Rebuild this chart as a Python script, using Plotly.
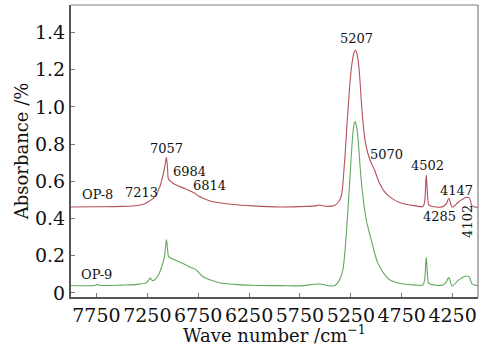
import plotly.graph_objects as go

# OP-8 spectrum (wavenumber cm^-1, absorbance)
op8_wn = [8000, 7750, 7500, 7350, 7280, 7240, 7212, 7180, 7131, 7091, 7075, 7062, 7050, 7042,
          7010, 6967, 6868, 6787, 6750, 6708, 6640, 6541, 6400, 6216, 5950, 5754, 5600, 5558,
          5500, 5410, 5370, 5345, 5312, 5280, 5246, 5220, 5204, 5188, 5171, 5138, 5110, 5083,
          5050, 5017, 4968, 4920, 4870, 4771, 4700, 4607, 4542, 4525, 4509, 4495, 4483, 4450,
          4346, 4310, 4287, 4253, 4200, 4164, 4140, 4115, 4085, 4060, 4030, 4003]
op8_abs = [0.462, 0.463, 0.465, 0.470, 0.478, 0.490, 0.500, 0.515, 0.565, 0.645, 0.690, 0.728, 0.660, 0.613,
           0.595, 0.580, 0.558, 0.537, 0.522, 0.510, 0.496, 0.485, 0.475, 0.468, 0.462, 0.464, 0.468, 0.473,
           0.466, 0.470, 0.490, 0.518, 0.700, 0.966, 1.200, 1.290, 1.306, 1.280, 1.217, 0.966, 0.820, 0.751,
           0.700, 0.661, 0.590, 0.545, 0.518, 0.486, 0.475, 0.468, 0.464, 0.490, 0.634, 0.520, 0.473, 0.465,
           0.464, 0.480, 0.509, 0.461, 0.485, 0.500, 0.508, 0.514, 0.510, 0.470, 0.462, 0.460]

# OP-9 spectrum
op9_wn = [8000, 7760, 7745, 7720, 7500, 7350, 7262, 7235, 7222, 7199, 7160, 7131, 7088, 7072,
          7062, 7050, 7039, 6967, 6900, 6836, 6770, 6705, 6620, 6541, 6400, 6216, 5950, 5754,
          5558, 5480, 5410, 5361, 5330, 5312, 5280, 5246, 5225, 5210, 5195, 5181, 5148, 5120,
          5098, 5083, 5049, 4984, 4902, 4850, 4771, 4607, 4542, 4525, 4509, 4495, 4483, 4346,
          4310, 4287, 4253, 4200, 4164, 4115, 4085, 4060, 4030, 4003]
op9_abs = [0.040, 0.041, 0.046, 0.041, 0.042, 0.046, 0.054, 0.070, 0.080, 0.066, 0.080, 0.107, 0.177, 0.240,
           0.285, 0.230, 0.195, 0.174, 0.158, 0.141, 0.124, 0.088, 0.068, 0.055, 0.046, 0.041, 0.039, 0.038,
           0.048, 0.040, 0.039, 0.070, 0.120, 0.195, 0.430, 0.733, 0.880, 0.921, 0.900, 0.840, 0.607, 0.470,
           0.392, 0.356, 0.285, 0.160, 0.088, 0.065, 0.052, 0.042, 0.043, 0.070, 0.192, 0.090, 0.052, 0.043,
           0.060, 0.082, 0.038, 0.065, 0.079, 0.091, 0.085, 0.050, 0.042, 0.040]

x_ticks = [7750, 7250, 6750, 6250, 5750, 5250, 4750, 4250]
y_ticks = [0, 0.2, 0.4, 0.6, 0.8, 1.0, 1.2, 1.4]
y_tick_text = ["0", "0.2", "0.4", "0.6", "0.8", "1.0", "1.2", "1.4"]

# peak labels: (text, x, y, angle)
peak_labels = [
    ("5207", 5199, 1.366, 0), ("5070", 4904, 0.742, 0), ("4502", 4501, 0.683, 0),
    ("7057", 7060, 0.774, 0), ("6984", 6840, 0.652, 0), ("6814", 6634, 0.575, 0),
    ("7213", 7312, 0.539, 0), ("4147", 4216, 0.550, 0), ("4285", 4383, 0.410, 0),
    ("4102", 4098, 0.382, -90),
]
series_labels = [("OP-8", 7744, 0.527), ("OP-9", 7754, 0.097)]

FONT = "DejaVu Serif"
RED = "#b4505a"
GREEN = "#62a85c"

fig = go.Figure()
fig.add_trace(go.Scatter(x=op8_wn, y=op8_abs, mode="lines", line=dict(color=RED, width=1.1),
                         name="OP-8", line_shape="spline", showlegend=False))
fig.add_trace(go.Scatter(x=op9_wn, y=op9_abs, mode="lines", line=dict(color=GREEN, width=1.1),
                         name="OP-9", line_shape="spline", showlegend=False))

for t, x, y, a in peak_labels:
    fig.add_annotation(x=x, y=y, text=t, showarrow=False, textangle=a,
                       font=dict(family=FONT, size=13, color="#111"))
for t, x, y in series_labels:
    fig.add_annotation(x=x, y=y, text=t, showarrow=False,
                       font=dict(family=FONT, size=13, color="#111"))

# light frame on top and right
fig.add_shape(type="line", xref="paper", yref="paper", x0=0, x1=1, y0=1, y1=1,
              line=dict(color="#808080", width=1.2))
fig.add_shape(type="line", xref="paper", yref="paper", x0=1, x1=1, y0=0, y1=1,
              line=dict(color="#808080", width=1.2))

fig.update_layout(
    width=488, height=346,
    margin=dict(l=71, r=10, t=5, b=49, autoexpand=False),
    paper_bgcolor="white", plot_bgcolor="white",
    font=dict(family=FONT, color="#111"),
    xaxis=dict(range=[8000, 4000], tickvals=x_ticks, ticks="inside", ticklen=4, tickangle=0,
               automargin=False,
               tickcolor="#777", showgrid=False, zeroline=False, showline=True,
               linecolor="#555", linewidth=2, tickfont=dict(family=FONT, size=19),
               title=dict(text="Wave number /cm<sup>−1</sup>", font=dict(family=FONT, size=18),
                          standoff=0)),
    yaxis=dict(range=[-0.022, 1.548], tickvals=y_ticks, ticktext=y_tick_text, ticks="inside",
               ticklen=4, tickcolor="#777", showgrid=False, zeroline=False, showline=True,
               automargin=False,
               linecolor="#555", linewidth=2, tickfont=dict(family=FONT, size=19),
               title=dict(text="Absorbance /%", font=dict(family=FONT, size=18), standoff=2)),
)

fig.write_html("out.html", post_script="document.body.style.margin='0';",
               config={"displayModeBar": False})
